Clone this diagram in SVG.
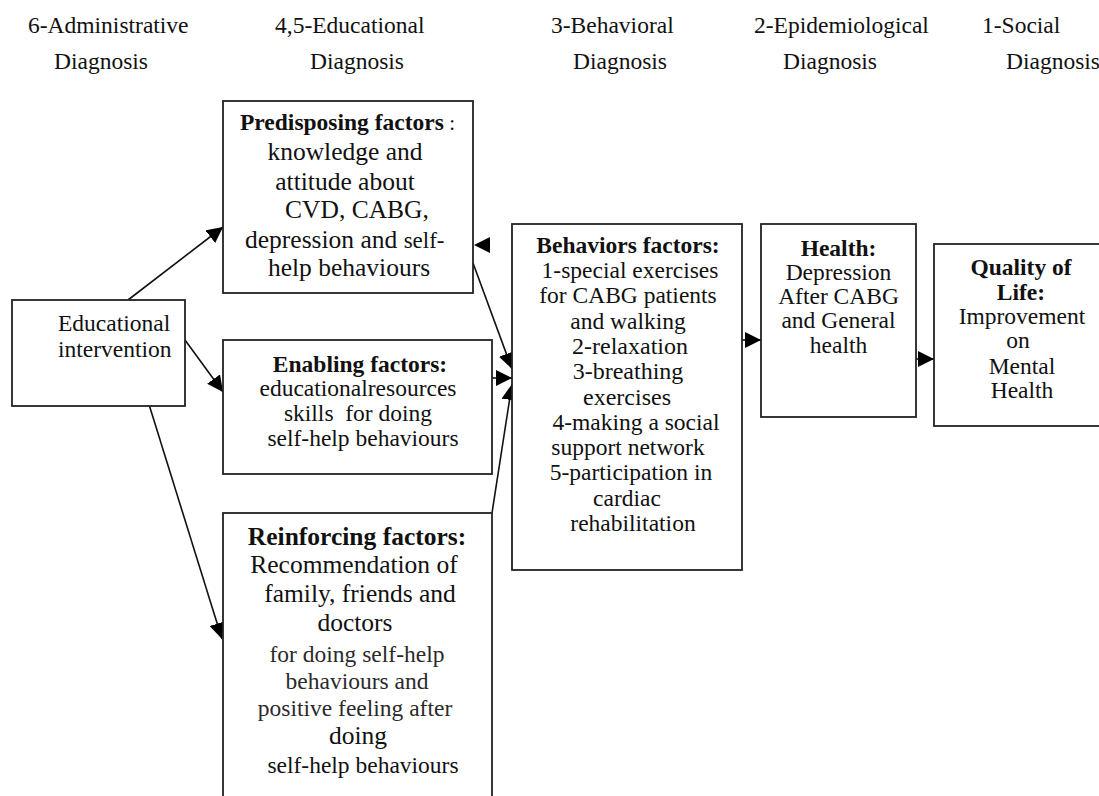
<svg xmlns="http://www.w3.org/2000/svg" width="1099" height="796" viewBox="0 0 1099 796">
<defs>
<style>
text{font-family:"Liberation Serif","Times New Roman",serif;fill:#111;}
.h{font-size:23.5px;}
.t{font-size:23.5px;text-anchor:middle;}
.tl{font-size:25.5px;text-anchor:middle;}
.tm{font-size:24px;text-anchor:middle;}
.b{font-weight:bold;}
.g{fill:#2a2a2a;}
.box{fill:#fff;stroke:#222;stroke-width:1.8;}
.con{stroke:#111;stroke-width:1.6;fill:none;marker-end:url(#ah);}
</style>
<marker id="ah" markerUnits="userSpaceOnUse" markerWidth="17" markerHeight="17" refX="16" refY="8" orient="auto">
<path d="M0,0 L16,8 L0,16 Z" fill="#000"/>
</marker>
</defs>
<rect width="1099" height="796" fill="#fff"/>

<g id="headers">
<text class="h" x="28" y="33">6-Administrative</text>
<text class="h" x="54" y="69">Diagnosis</text>
<text class="h" x="275" y="33">4,5-Educational</text>
<text class="h" x="310" y="69">Diagnosis</text>
<text class="h" x="551" y="33">3-Behavioral</text>
<text class="h" x="573" y="69">Diagnosis</text>
<text class="h" x="754" y="33">2-Epidemiological</text>
<text class="h" x="783" y="69">Diagnosis</text>
<text class="h" x="982" y="33">1-Social</text>
<text class="h" x="1006" y="69">Diagnosis</text>
</g>

<g id="connectors">
<line class="con" x1="128" y1="300" x2="223" y2="227"/>
<line class="con" x1="185" y1="340" x2="223" y2="392"/>
<line class="con" x1="147" y1="398" x2="222" y2="639"/>
<line class="con" x1="473" y1="263" x2="512" y2="369"/>
<line class="con" x1="492" y1="378" x2="512" y2="378"/>
<line class="con" x1="492" y1="513" x2="512" y2="384"/>
<polygon points="474,245 490,237 490,253" fill="#000"/>
<line class="con" x1="742" y1="340" x2="761" y2="340"/>
<line class="con" x1="916" y1="359" x2="934" y2="359"/>
</g>

<g id="educational-intervention">
<rect class="box" x="12" y="300" width="173" height="106"/>
<text class="h" x="58" y="331">Educational</text>
<text class="h" x="58" y="357">intervention</text>
</g>

<g id="predisposing">
<rect class="box" x="223" y="101" width="250" height="192"/>
<text x="240" y="130"><tspan class="b" font-size="23.5">Predisposing factors</tspan><tspan font-size="21"> :</tspan></text>
<text class="tl" x="345" y="160">knowledge and</text>
<text class="tl" x="345" y="190">attitude about</text>
<text class="tl" x="357" y="218">CVD, CABG,</text>
<text x="245" y="248"><tspan font-size="25.5">depression  and </tspan><tspan font-size="23">self-</tspan></text>
<text class="tl" x="349" y="276">help behaviours</text>
</g>

<g id="enabling">
<rect class="box" x="223" y="340" width="269" height="134"/>
<text class="t b" x="360" y="372">Enabling factors:</text>
<text class="t" x="358" y="396">educationalresources</text>
<text class="t" x="358" y="421" xml:space="preserve">skills  for doing</text>
<text class="t" x="363" y="446">self-help behaviours</text>
</g>

<g id="reinforcing">
<rect class="box" x="223" y="513" width="269" height="300"/>
<text class="tl b" x="357" y="545">Reinforcing factors:</text>
<text class="tl" x="354" y="573">Recommendation of</text>
<text class="tl" x="360" y="602">family, friends and</text>
<text class="tl" x="355" y="631">doctors</text>
<text class="t g" x="357" y="662">for doing self-help</text>
<text class="t g" x="357" y="689">behaviours and</text>
<text class="t g" x="355" y="716">positive feeling after</text>
<text class="tl" x="358" y="744">doing</text>
<text class="t" x="363" y="773">self-help behaviours</text>
</g>

<g id="behaviors">
<rect class="box" x="512" y="224" width="230" height="346"/>
<text class="t b" x="628" y="253">Behaviors factors:</text>
<text class="t" x="630" y="278">1-special exercises</text>
<text class="t" x="628" y="303">for CABG patients</text>
<text class="t" x="628" y="329">and walking</text>
<text class="tm" x="630" y="354">2-relaxation</text>
<text class="tm" x="628" y="379">3-breathing</text>
<text class="tm" x="627" y="405">exercises</text>
<text class="t" x="636" y="430">4-making a social</text>
<text class="t" x="628" y="455">support network</text>
<text class="t" x="631" y="480">5-participation in</text>
<text class="t" x="627" y="506">cardiac</text>
<text class="t" x="633" y="531">rehabilitation</text>
</g>

<g id="health">
<rect class="box" x="761" y="224" width="155" height="193"/>
<text class="t b" x="838.5" y="256">Health:</text>
<text class="t" x="838.5" y="280">Depression</text>
<text class="t" x="838.5" y="304">After CABG</text>
<text class="t" x="838.5" y="328">and General</text>
<text class="t" x="838.5" y="353">health</text>
</g>

<g id="quality-of-life">
<rect class="box" x="934" y="244" width="170" height="182"/>
<text class="t b" x="1021" y="275">Quality of</text>
<text class="t b" x="1021" y="300">Life:</text>
<text class="t" x="1022" y="324">Improvement</text>
<text class="t" x="1018" y="348">on</text>
<text class="t" x="1022" y="374">Mental</text>
<text class="t" x="1022" y="398">Health</text>
</g>
</svg>
